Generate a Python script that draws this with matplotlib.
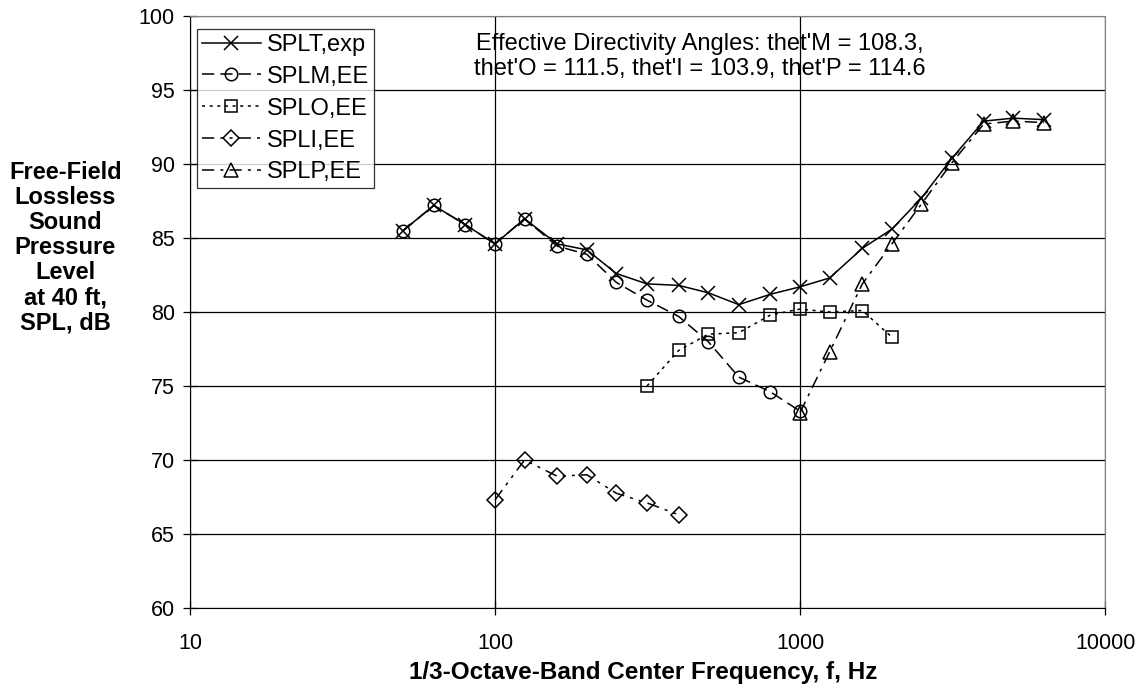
import matplotlib
matplotlib.use("Agg")
import matplotlib.pyplot as plt
from matplotlib.ticker import FixedLocator, FixedFormatter, NullLocator

plt.rcParams['font.family'] = ['Liberation Sans', 'DejaVu Sans']

# 1/3-octave band center frequencies, Hz
freq_T = [50, 63, 80, 100, 125, 160, 200, 250, 315, 400, 500, 630, 800,
          1000, 1250, 1600, 2000, 2500, 3150, 4000, 5000, 6300]
spl_T = [85.5, 87.2, 85.9, 84.6, 86.3, 84.6, 84.2, 82.6, 81.9, 81.8, 81.3, 80.5,
         81.2, 81.7, 82.3, 84.3, 85.6, 87.7, 90.4, 92.9, 93.1, 93.0]

freq_M = [50, 63, 80, 100, 125, 160, 200, 250, 315, 400, 500, 630, 800, 1000]
spl_M = [85.5, 87.2, 85.9, 84.6, 86.3, 84.45, 83.9, 82.0, 80.8, 79.7, 78.0, 75.6,
         74.6, 73.3]

freq_O = [315, 400, 500, 630, 800, 1000, 1250, 1600, 2000]
spl_O = [75.0, 77.4, 78.5, 78.6, 79.8, 80.2, 80.0, 80.1, 78.3]

freq_I = [100, 125, 160, 200, 250, 315, 400]
spl_I = [67.3, 70.0, 68.9, 69.0, 67.75, 67.1, 66.3]

freq_P = [1000, 1250, 1600, 2000, 2500, 3150, 4000, 5000, 6300]
spl_P = [73.2, 77.3, 81.9, 84.6, 87.3, 90.1, 92.7, 92.9, 92.8]

labels = ["SPLT,exp", "SPLM,EE", "SPLO,EE", "SPLI,EE", "SPLP,EE"]
x_ticks = [10, 100, 1000, 10000]
x_tick_labels = ["10", "100", "1000", "10000"]
y_ticks = [60, 65, 70, 75, 80, 85, 90, 95, 100]

fig = plt.figure(figsize=(11.44, 6.98), dpi=100)
ax = fig.add_axes([0.166, 0.129, 0.800, 0.848])

ax.set_xscale('log')
ax.set_xlim(10, 10000)
ax.set_ylim(60, 100)

ax.xaxis.set_major_locator(FixedLocator(x_ticks))
ax.xaxis.set_major_formatter(FixedFormatter(x_tick_labels))
ax.xaxis.set_minor_locator(NullLocator())
ax.set_yticks(y_ticks)

ax.grid(True, which='major', color='black', linewidth=0.9)
ax.set_axisbelow(True)

common = dict(color='black', linewidth=1.1, markerfacecolor='none',
              markeredgecolor='black', markeredgewidth=1.1)
ax.plot(freq_T, spl_T, linestyle='-', marker='x', markersize=10, label=labels[0], **common)
ax.plot(freq_M, spl_M, linestyle=(0, (8, 4)), marker='o', markersize=9, label=labels[1], **common)
ax.plot(freq_O, spl_O, linestyle=(0, (2, 3)), marker='s', markersize=9, label=labels[2], **common)
ax.plot(freq_I, spl_I, linestyle=(0, (8, 4, 2, 4, 2, 4)), marker='D', markersize=8, label=labels[3], **common)
ax.plot(freq_P, spl_P, linestyle=(0, (8, 4, 2, 4)), marker='^', markersize=10, label=labels[4], **common)

for side in ('top', 'right'):
    ax.spines[side].set_color('#808080')
for side in ('left', 'bottom'):
    ax.spines[side].set_color('black')
ax.tick_params(axis='both', direction='inout', length=10, width=0.9,
               labelsize=15.5, colors='black')
ax.tick_params(axis='y', pad=6)
ax.tick_params(axis='x', pad=13)

leg = ax.legend(loc='upper left', bbox_to_anchor=(0.0077, 0.978), borderaxespad=0,
                fontsize=17, frameon=True, fancybox=False, handlelength=2.5,
                handletextpad=0.28, labelspacing=0.42, borderpad=0.2)
leg.get_frame().set_edgecolor('black')
leg.get_frame().set_linewidth(0.9)

ax.text(0.557, 0.932,
        "Effective Directivity Angles: thet'M = 108.3,\nthet'O = 111.5, thet'I = 103.9, thet'P = 114.6",
        transform=ax.transAxes, ha='center', va='center', fontsize=17,
        multialignment='center', linespacing=1.2)

fig.text(0.5625, 0.036, "1/3-Octave-Band Center Frequency, f, Hz", fontsize=17.5,
         fontweight='bold', ha='center', va='center')
fig.text(0.057, 0.645,
         "Free-Field\nLossless\nSound\nPressure\nLevel\nat 40 ft,\nSPL, dB",
         ha='center', va='center', fontsize=17, fontweight='bold', linespacing=1.12)

fig.savefig("out.png", dpi=100)
